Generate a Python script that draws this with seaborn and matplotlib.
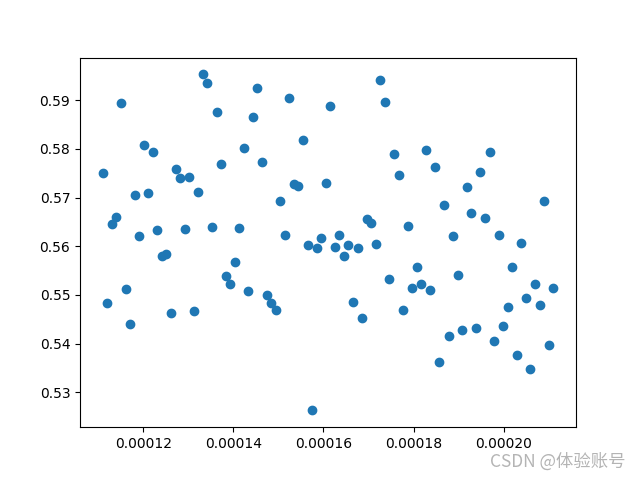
import matplotlib
matplotlib.use('Agg')
import matplotlib.pyplot as plt
import numpy as np
import pandas as pd
import seaborn as sns

# x values (in units of 1e-6)
x_micro = [111.0, 112.0, 113.0, 114.0, 115.0, 116.1, 117.1, 118.1, 119.1, 120.1,
           121.1, 122.1, 123.1, 124.1, 125.1, 126.2, 127.2, 128.2, 129.2, 130.2,
           131.2, 132.2, 133.2, 134.2, 135.2, 136.3, 137.3, 138.3, 139.3, 140.3,
           141.3, 142.3, 143.3, 144.3, 145.3, 146.4, 147.4, 148.4, 149.4, 150.4,
           151.4, 152.4, 153.4, 154.4, 155.4, 156.5, 157.5, 158.5, 159.5, 160.5,
           161.5, 162.5, 163.5, 164.5, 165.5, 166.6, 167.6, 168.6, 169.6, 170.6,
           171.6, 172.6, 173.6, 174.6, 175.6, 176.7, 177.7, 178.7, 179.7, 180.7,
           181.7, 182.7, 183.7, 184.7, 185.7, 186.8, 187.8, 188.8, 189.8, 190.8,
           191.8, 192.8, 193.8, 194.8, 195.8, 196.9, 197.9, 198.9, 199.9, 200.9,
           201.9, 202.9, 203.9, 204.9, 205.9, 207.0, 208.0, 209.0, 210.0, 211.0]

y_vals = [0.5751, 0.5484, 0.5645, 0.5661, 0.5895, 0.5513, 0.5441, 0.5706, 0.5622, 0.5808,
          0.5709, 0.5794, 0.5633, 0.5581, 0.5585, 0.5462, 0.5759, 0.5741, 0.5636, 0.5743,
          0.5468, 0.5712, 0.5953, 0.5936, 0.5640, 0.5876, 0.5769, 0.5538, 0.5523, 0.5568,
          0.5638, 0.5802, 0.5509, 0.5866, 0.5925, 0.5774, 0.5499, 0.5484, 0.5470, 0.5694,
          0.5624, 0.5905, 0.5727, 0.5724, 0.5819, 0.5602, 0.5263, 0.5597, 0.5618, 0.5730,
          0.5889, 0.5598, 0.5624, 0.5581, 0.5602, 0.5486, 0.5597, 0.5453, 0.5657, 0.5648,
          0.5605, 0.5942, 0.5897, 0.5533, 0.5790, 0.5747, 0.5470, 0.5642, 0.5515, 0.5557,
          0.5523, 0.5797, 0.5511, 0.5763, 0.5363, 0.5685, 0.5416, 0.5622, 0.5542, 0.5429,
          0.5721, 0.5669, 0.5433, 0.5753, 0.5659, 0.5794, 0.5406, 0.5624, 0.5437, 0.5476,
          0.5557, 0.5377, 0.5607, 0.5494, 0.5347, 0.5523, 0.5479, 0.5692, 0.5398, 0.5515]

df = pd.DataFrame({'x': np.array(x_micro) * 1e-6, 'y': y_vals})

fig, ax = plt.subplots(figsize=(6.4, 4.8), dpi=100)
sns.scatterplot(data=df, x='x', y='y', ax=ax, color='#1f77b4', s=36,
                edgecolor='face', linewidth=1.0)
ax.set_xlabel('')
ax.set_ylabel('')
ax.set_xticks([0.00012, 0.00014, 0.00016, 0.00018, 0.00020])
ax.set_xticklabels(['0.00012', '0.00014', '0.00016', '0.00018', '0.00020'])

# watermark
fig.text(0.977, 0.038, 'CSDN @体验账号', ha='right', va='center', fontsize=12.5,
         color='#b4b4b4', family=['Noto Sans CJK SC', 'DejaVu Sans'])

fig.savefig('out.png', dpi=100)
